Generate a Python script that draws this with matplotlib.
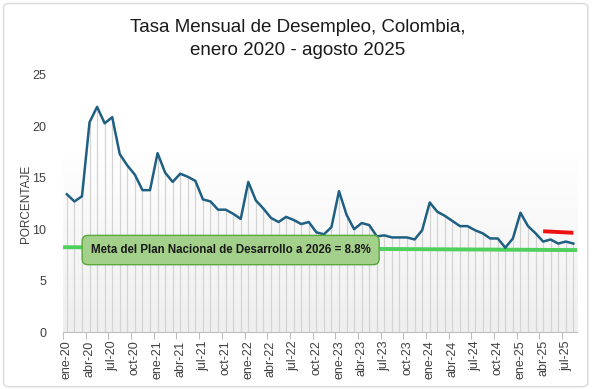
import matplotlib
matplotlib.use("Agg")
import matplotlib.pyplot as plt
import matplotlib.patches as mpatches
import numpy as np

# Tasa de desempleo mensual (%), ene-2020 .. ago-2025
desempleo = [
    13.4, 12.7, 13.2, 20.4, 21.9, 20.3, 20.9, 17.3, 16.2, 15.3, 13.8, 13.8,  # 2020
    17.4, 15.5, 14.6, 15.4, 15.1, 14.7, 12.9, 12.7, 11.9, 11.9, 11.5, 11.0,  # 2021
    14.6, 12.8, 12.0, 11.1, 10.7, 11.2, 10.9, 10.5, 10.7, 9.7, 9.5, 10.2,    # 2022
    13.7, 11.4, 10.0, 10.6, 10.4, 9.3, 9.4, 9.2, 9.2, 9.2, 9.0, 9.9,         # 2023
    12.6, 11.7, 11.3, 10.8, 10.3, 10.3, 9.9, 9.6, 9.1, 9.1, 8.2, 9.1,        # 2024
    11.6, 10.3, 9.6, 8.8, 9.0, 8.6, 8.8, 8.6,                                # 2025
]
meses = ["ene", "feb", "mar", "abr", "may", "jun", "jul", "ago", "sep", "oct", "nov", "dic"]
etiquetas = [f"{meses[i % 12]}-{20 + i // 12}" for i in range(len(desempleo))]

meta_pnd = [8.25, 7.97]      # linea verde (inicio, fin)
referencia = [9.8, 9.65]     # linea roja (abr-25 .. ago-25)
texto_meta = "Meta del Plan Nacional de Desarrollo a 2026 = 8.8%"

plt.rcParams['font.family'] = ['Liberation Sans', 'DejaVu Sans']

fig = plt.figure(figsize=(5.95, 3.89), dpi=100)
ax = fig.add_axes([0.106, 0.1465, 0.864, 0.6607])

n = len(desempleo)
x = np.arange(n)

# fondo degradado del area de trazado
grad = np.linspace(0, 1, 256).reshape(-1, 1)
grad = np.clip((grad - 0.3) / 0.7, 0, 1)
cmap = matplotlib.colors.LinearSegmentedColormap.from_list("g", ["#ffffff", "#efefef"])
ax.imshow(grad, aspect="auto", cmap=cmap, extent=[0, 1, 0, 1],
          transform=ax.transAxes, zorder=0, vmin=0, vmax=1, origin="upper")

# lineas verticales hasta cada punto
ax.vlines(x, 0, desempleo, color="#d4d4d4", linewidth=0.9, zorder=1)

# meta PND
ax.plot([-0.5, n - 0.5], meta_pnd, color="#4fcf5c", linewidth=2.8, zorder=2,
        solid_capstyle="butt")

# serie principal
ax.plot(x, desempleo, color="#1f5f82", linewidth=1.8, zorder=3)

# referencia roja
ax.plot([n - 5, n - 1], referencia, color="#ee1111", linewidth=2.8, zorder=3,
        solid_capstyle="butt")

ax.text(0.326, 0.319, texto_meta, transform=ax.transAxes, ha="center", va="center",
        fontsize=8.3, fontweight="bold", color="#1a1a1a", zorder=5,
        bbox=dict(boxstyle="round,pad=0.75,rounding_size=0.5", facecolor="#a3d08a",
                  edgecolor="#5aa83c", linewidth=1.0))

ax.set_xlim(-0.5, n - 0.5)
ax.set_ylim(0, 25)
ax.set_yticks(range(0, 26, 5))
ax.tick_params(axis="y", length=0, labelsize=9, colors="#404040", pad=12)

ax.set_xticks(x[::3])
ax.set_xticklabels(etiquetas[::3], rotation=90, fontsize=9, color="#404040")
ax.set_xticks(np.arange(-0.5, n, 3), minor=True)
ax.tick_params(axis="x", which="major", length=0, pad=6)
ax.tick_params(axis="x", which="minor", length=5, color="#bfbfbf", width=0.8)

for s in ["top", "right", "left"]:
    ax.spines[s].set_visible(False)
ax.spines["bottom"].set_color("#bfbfbf")
ax.spines["bottom"].set_zorder(4)

ax.set_ylabel("PORCENTAJE", fontsize=8.5, color="#404040", labelpad=0)

fig.text(0.5, 0.899, "Tasa Mensual de Desempleo, Colombia,\nenero 2020 - agosto 2025",
         ha="center", va="center", fontsize=13.5, color="#1a1a1a", linespacing=1.45)

borde = mpatches.FancyBboxPatch((0.006, 0.006), 0.982, 0.985, transform=fig.transFigure,
                                boxstyle="round,pad=0,rounding_size=0.01",
                                facecolor="none", edgecolor="#d9d9d9", linewidth=1.0)
fig.patches.append(borde)

fig.savefig("out.png", dpi=100)
plt.close(fig)
